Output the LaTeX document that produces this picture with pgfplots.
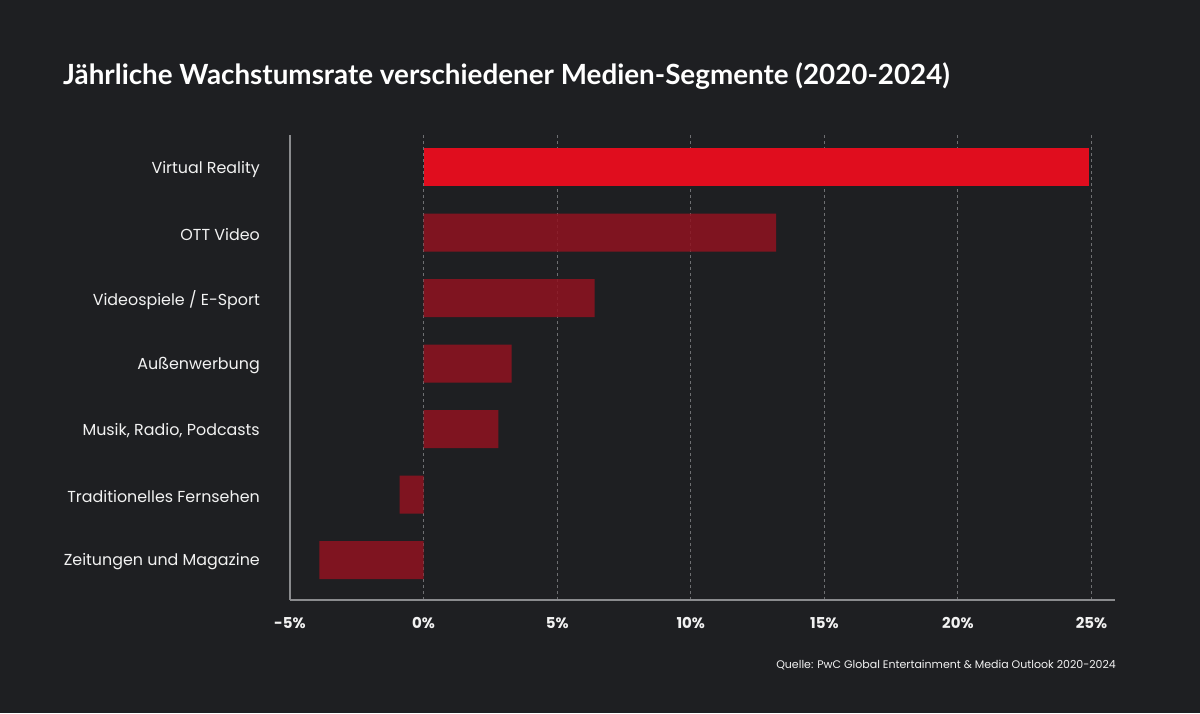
\documentclass[border=0pt]{standalone}
\usepackage{fontspec}
\setmainfont{Poppins}
\newfontfamily\titlefont{Lato}
\usepackage{pgfplots}
\pgfplotsset{compat=1.18}

\definecolor{bg}{HTML}{1E1F22}
\definecolor{vrred}{HTML}{E00D1E}
\definecolor{darkred}{RGB}{144,19,32}
\definecolor{axisgray}{HTML}{8A8B8E}
\definecolor{gridgray}{HTML}{6E6F72}
\definecolor{labelwhite}{HTML}{F2F2F2}

% growth rates in percent, bottom to top
\pgfplotstableread{
idx value
0 -3.9
1 -0.9
2 2.8
3 3.3
4 6.4
5 13.2
}\others
\pgfplotstableread{
idx value
6 24.9
}\vr

\begin{document}
\begin{tikzpicture}[x=1pt,y=1pt]
\fill[bg] (0,0) rectangle (1200,713);

\node[anchor=base west, inner sep=0pt, text=white,
      font=\titlefont\bfseries\fontsize{27.8}{32}\selectfont]
  at (63,628) {Jährliche Wachstumsrate verschiedener Medien-Segmente (2020-2024)};

\begin{axis}[
  at={(290pt,113pt)}, anchor=south west,
  scale only axis, width=825pt, height=465pt,
  xmin=-5, xmax=25.88, ymin=-0.61, ymax=6.49,
  axis x line*=bottom, axis y line*=left,
  axis line style={axisgray, line width=1.2pt},
  x axis line style={-}, y axis line style={-},
  xtick={-5,0,5,10,15,20,25},
  xticklabels={-5\%,0\%,5\%,10\%,15\%,20\%,25\%},
  ytick={0,1,2,3,4,5,6},
  yticklabels={Zeitungen und Magazine,Traditionelles Fernsehen,{Musik, Radio, Podcasts},Außenwerbung,Videospiele / E-Sport,OTT Video,Virtual Reality},
  major tick length=0pt,
  xticklabel style={font=\bfseries\fontsize{15}{18}\selectfont, text=labelwhite, yshift=-14pt},
  yticklabel style={font=\fontsize{15.9}{19}\selectfont, text=labelwhite, anchor=east, inner sep=0pt, xshift=-30pt, yshift=-2pt},
  xmajorgrids, ymajorgrids=false,
  grid style={gridgray, dashed, line width=0.9pt, dash pattern=on 3pt off 3pt},
  xbar, bar width=38pt, bar shift=0pt,
  clip=false,
]
\addplot[draw=none, fill=darkred, fill opacity=0.85] table[x=value, y=idx] {\others};
\addplot[draw=none, fill=vrred] table[x=value, y=idx] {\vr};
\end{axis}

\node[anchor=base east, inner sep=0pt, text=labelwhite,
      font=\fontsize{11}{13}\selectfont]
  at (1116,45) {Quelle: PwC Global Entertainment \& Media Outlook 2020-2024};
\end{tikzpicture}
\end{document}
